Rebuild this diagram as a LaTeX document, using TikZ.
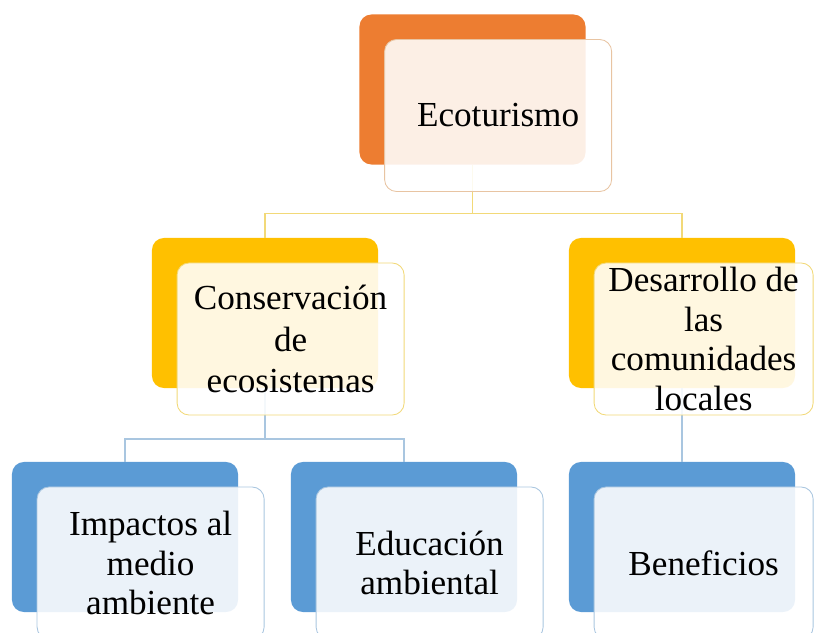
\documentclass[tikz,border=0pt]{standalone}
\usepackage{fontspec}
\setmainfont{Liberation Serif}
\usetikzlibrary{positioning}

\definecolor{ecoorange}{HTML}{ED7D31}
\definecolor{ecoyellow}{HTML}{FFC000}
\definecolor{ecoblue}{HTML}{5B9BD5}
\definecolor{rimorange}{HTML}{E8C4A2}
\definecolor{rimyellow}{HTML}{F2D978}
\definecolor{rimblue}{HTML}{A9C6E0}

\tikzset{
  back/.style={fill=#1, rounded corners=0.3cm, minimum width=5.65cm,
    minimum height=3.75cm, inner sep=0pt, outer sep=0pt},
  front/.style={draw=#1, line width=0.6pt, fill=white, fill opacity=0.88,
    text opacity=1, rounded corners=0.3cm, minimum width=5.675cm,
    minimum height=3.8cm, inner sep=0pt, outer sep=0pt, align=center,
    font=\fontsize{25}{28}\selectfont},
  narrow/.style={minimum width=5.475cm},
  link/.style={draw=#1, line width=0.8pt}
}

\begin{document}
\begin{tikzpicture}[x=0.025cm, y=-0.025cm, on grid]
  \useasboundingbox (0,0) rectangle (815,632);
  \clip (0,0) rectangle (815,632);

  % back boxes
  \node[back=ecoorange] (ecoB) at (472.5,89.5) {};
  \node[back=ecoyellow] (consB) at (265,313) {};
  \node[back=ecoyellow] (desB) at (682,313) {};
  \node[back=ecoblue] (impB) at (125,537) {};
  \node[back=ecoblue] (eduB) at (404,537) {};
  \node[back=ecoblue] (benB) at (682,537) {};

  % connectors
  \draw[link=rimyellow] (ecoB.south) -- ++(0,49) -| (consB.north);
  \draw[link=rimyellow] (ecoB.south) -- ++(0,49) -| (desB.north);
  \draw[link=rimblue] (consB.south) -- ++(0,51) -| (impB.north);
  \draw[link=rimblue] (consB.south) -- ++(0,51) -| (eduB.north);
  \draw[link=rimblue] (desB.south) -- (benB.north);

  % front boxes
  \node[front=rimorange, below right=0.65cm and 0.64cm of ecoB] (eco) {Ecoturismo};
  \node[front=rimyellow, below right=0.65cm and 0.64cm of consB] (cons)
    {Conservación\\[1.5pt]de\\[1.5pt]ecosistemas};
  \node[front=rimyellow, narrow, below right=0.65cm and 0.54cm of desB] (des)
    {Desarrollo de\\las\\comunidades\\locales};
  \node[front=rimblue, below right=0.65cm and 0.64cm of impB] (imp)
    {Impactos al\\medio\\ambiente};
  \node[front=rimblue, below right=0.65cm and 0.64cm of eduB] (edu)
    {Educación\\ambiental};
  \node[front=rimblue, narrow, below right=0.65cm and 0.54cm of benB] (ben)
    {Beneficios};
\end{tikzpicture}
\end{document}
